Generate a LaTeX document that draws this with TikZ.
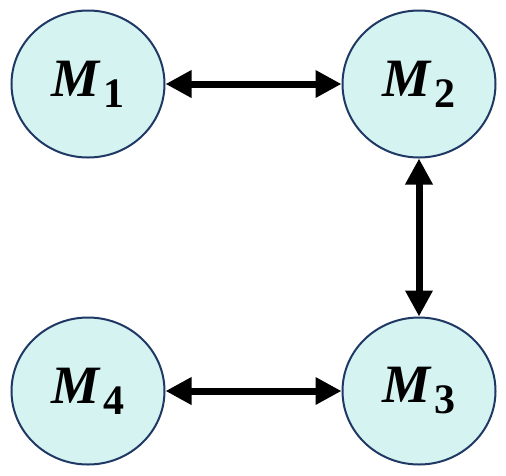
\documentclass[tikz,border=0pt]{standalone}
\usepackage{fontspec}
\setmainfont{Liberation Serif}
\usepackage{xcolor}
\usetikzlibrary{arrows.meta, shapes.geometric}
\definecolor{modfill}{HTML}{D5F3F1}
\definecolor{modedge}{HTML}{1F3864}

\newcommand{\modname}[1]{{\bfseries\itshape M}\kern4pt\raisebox{-11pt}{\bfseries\fontsize{42}{44}\selectfont #1}}

\begin{document}
\begin{tikzpicture}[
      x=1pt, y=-1pt,
      every node/.style={font=\fontsize{54}{60}\selectfont},
      module/.style={ellipse, draw=modedge, line width=2pt, fill=modfill,
                     minimum width=153pt, minimum height=147pt, inner sep=0pt},
      arr/.style={{Triangle[length=26pt, width=26pt]}-{Triangle[length=26pt, width=26pt]},
                  line width=7pt, black},
    ]
    \useasboundingbox (0,0) rectangle (506,475);

    % Nodes
    \node[module] (m1) at (88,84)   {\modname{1}};
    \node[module] (m2) at (419,84)  {\modname{2}};
    \node[module] (m3) at (419,391) {\modname{3}};
    \node[module] (m4) at (88,391)  {\modname{4}};

    % Arrows
    \draw[arr] (m1) -- (m2);
    \draw[arr] (m2) -- (m3);
    \draw[arr] (m4) -- (m3);
  \end{tikzpicture}
\end{document}
